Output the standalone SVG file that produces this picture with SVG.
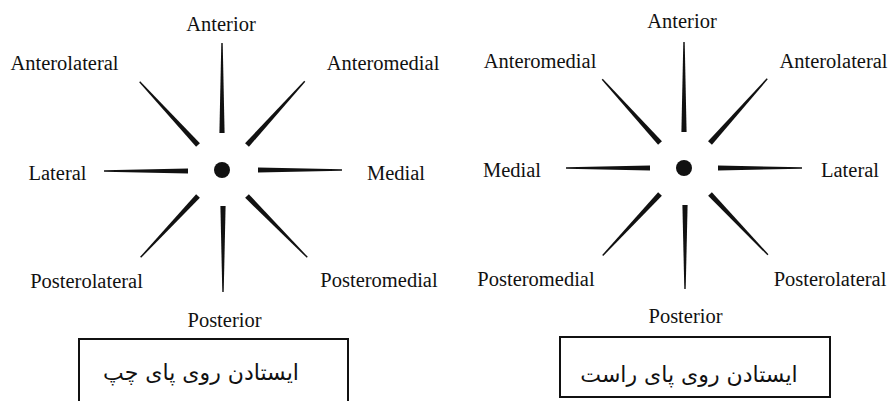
<svg xmlns="http://www.w3.org/2000/svg" width="892" height="401" viewBox="0 0 892 401">
<style>
.lbl{font-family:"Liberation Serif","Times New Roman",serif;font-size:20.5px;fill:#111;text-anchor:middle}
.fa{font-family:"DejaVu Sans",sans-serif;font-size:22px;fill:#111;text-anchor:middle}
.spk{fill:#111}
.box{fill:none;stroke:#111;stroke-width:2}
</style>
<defs>
<polygon id="w90" points="0,-2.6 90,-0.7 90,0.7 0,2.6"/>
<polygon id="w86" points="0,-2.6 86,-0.7 86,0.7 0,2.6"/>
<polygon id="w84" points="0,-2.6 84,-0.7 84,0.7 0,2.6"/>
</defs>
<rect width="892" height="401" fill="#fff"/>

<g id="left-figure">
  <circle id="left-center" cx="222" cy="170" r="8" fill="#111"/>
  <g id="left-spokes" class="spk">
    <use href="#w90" transform="translate(222,133) rotate(-90)"/>
    <use href="#w86" transform="translate(198,145) rotate(-132.7)"/>
    <use href="#w86" transform="translate(247,145) rotate(-47.8)"/>
    <use href="#w84" transform="translate(188,171) rotate(180)"/>
    <use href="#w84" transform="translate(258,170) rotate(0)"/>
    <use href="#w84" transform="translate(198,196) rotate(133.1)"/>
    <use href="#w86" transform="translate(247,196) rotate(45.5)"/>
    <use href="#w86" transform="translate(223,206) rotate(90)"/>
  </g>
  <g id="left-anterior"><text class="lbl" x="221" y="31">Anterior</text></g>
  <g id="left-anterolateral"><text class="lbl" x="64.5" y="70">Anterolateral</text></g>
  <g id="left-anteromedial"><text class="lbl" x="383" y="70">Anteromedial</text></g>
  <g id="left-lateral"><text class="lbl" x="57.5" y="180">Lateral</text></g>
  <g id="left-medial"><text class="lbl" x="396" y="180">Medial</text></g>
  <g id="left-posterolateral"><text class="lbl" x="86.5" y="288">Posterolateral</text></g>
  <g id="left-posteromedial"><text class="lbl" x="379" y="287">Posteromedial</text></g>
  <g id="left-posterior"><text class="lbl" x="224.5" y="327">Posterior</text></g>
  <g id="left-caption">
    <rect class="box" x="79" y="339" width="269" height="80"/>
    <text class="fa" x="201" y="380" direction="rtl">ایستادن روی پای چپ</text>
  </g>
</g>

<g id="right-figure">
  <circle id="right-center" cx="684" cy="168" r="8" fill="#111"/>
  <g id="right-spokes" class="spk">
    <use href="#w90" transform="translate(684,132) rotate(-90)"/>
    <use href="#w86" transform="translate(660,143) rotate(-132.2)"/>
    <use href="#w86" transform="translate(710,143) rotate(-48.3)"/>
    <use href="#w84" transform="translate(650,168) rotate(180)"/>
    <use href="#w84" transform="translate(718,168) rotate(0)"/>
    <use href="#w84" transform="translate(660,194) rotate(133)"/>
    <use href="#w84" transform="translate(710,194) rotate(46.4)"/>
    <use href="#w84" transform="translate(685,205) rotate(90)"/>
  </g>
  <g id="right-anterior"><text class="lbl" x="682" y="28">Anterior</text></g>
  <g id="right-anteromedial"><text class="lbl" x="540" y="68">Anteromedial</text></g>
  <g id="right-anterolateral"><text class="lbl" x="833.5" y="68">Anterolateral</text></g>
  <g id="right-medial"><text class="lbl" x="512" y="177">Medial</text></g>
  <g id="right-lateral"><text class="lbl" x="850" y="177">Lateral</text></g>
  <g id="right-posteromedial"><text class="lbl" x="536" y="286">Posteromedial</text></g>
  <g id="right-posterolateral"><text class="lbl" x="830" y="286">Posterolateral</text></g>
  <g id="right-posterior"><text class="lbl" x="685.5" y="323">Posterior</text></g>
  <g id="right-caption">
    <rect class="box" x="560" y="337" width="270" height="60"/>
    <text class="fa" x="689" y="382" direction="rtl">ایستادن روی پای راست</text>
  </g>
</g>
</svg>
